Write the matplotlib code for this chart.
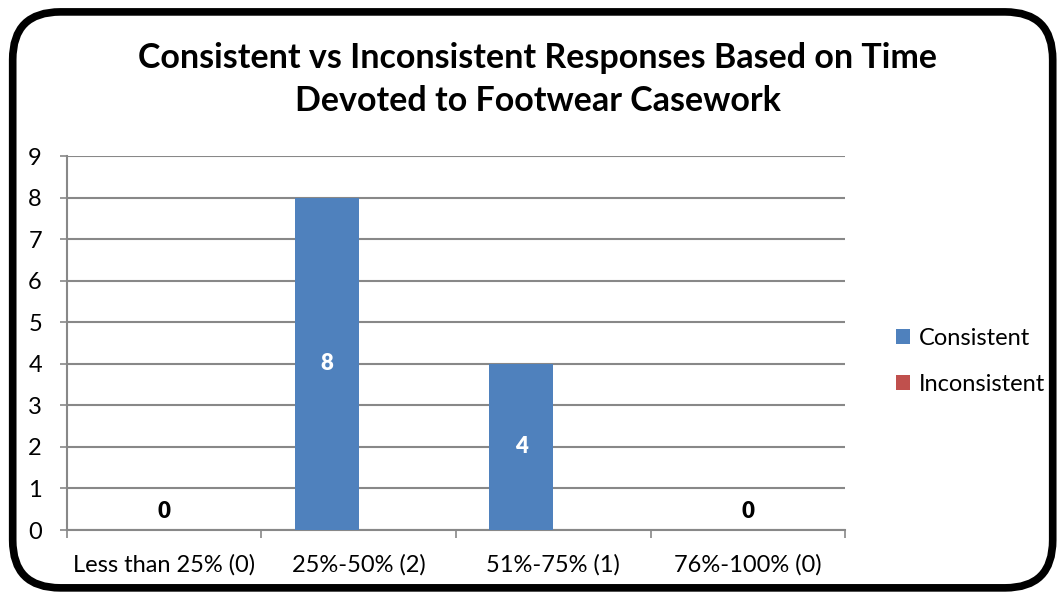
import numpy as np
import matplotlib.pyplot as plt
from matplotlib.patches import FancyBboxPatch

plt.rcParams['font.family'] = ['Lato', 'DejaVu Sans']

categories = ["Less than 25% (0)", "25%-50% (2)", "51%-75% (1)", "76%-100% (0)"]
consistent = [0, 8, 4, 0]
inconsistent = [0, 0, 0, 0]
series_names = ["Consistent", "Inconsistent"]
colors = ["#4F81BD", "#C0504D"]

fig = plt.figure(figsize=(10.58, 5.95), dpi=100)

# rounded frame round the whole chart
frame = FancyBboxPatch((0.012, 0.012), 0.983, 0.968,
                       boxstyle="round,pad=0,rounding_size=0.045",
                       transform=fig.transFigure, fill=False,
                       edgecolor="black", linewidth=5.5, mutation_aspect=1.78)
fig.patches.append(frame)

ax = fig.add_axes([0.0633, 0.1092, 0.7354, 0.6286])
x = np.arange(len(categories))
w = 0.33
ax.bar(x - w / 2, consistent, w, color=colors[0], label=series_names[0], zorder=3)
ax.bar(x + w / 2, inconsistent, w, color=colors[1], label=series_names[1], zorder=3)

# data labels
for i, v in enumerate(consistent):
    if v == 0:
        ax.annotate(str(v), (x[i], 0), xytext=(0, 6), textcoords="offset points",
                    ha="center", va="bottom", fontsize=16, fontweight="heavy", color="black")
    else:
        ax.text(x[i] - w / 2, v / 2, str(v), ha="center", va="center",
                fontsize=16, fontweight="heavy", color="white", zorder=4)

ax.set_xlim(-0.5, len(categories) - 0.5)
ax.set_ylim(0, 9)
ax.set_yticks(range(0, 10))
ax.yaxis.grid(True, color="#888888", linewidth=1.5, zorder=0)
ax.set_xticks(x)
ax.set_xticklabels(categories)
ax.set_xticks(np.arange(-0.5, len(categories)), minor=True)
ax.tick_params(axis="x", which="major", length=0, pad=17, labelsize=17)
ax.tick_params(axis="x", which="minor", length=6, width=1.2, color="#888888")
ax.tick_params(axis="y", length=5, width=1.2, color="#888888", pad=13, labelsize=17)
for s in ["top", "right"]:
    ax.spines[s].set_visible(False)
for s in ["left", "bottom"]:
    ax.spines[s].set_color("#888888")
    ax.spines[s].set_linewidth(1.5)

fig.text(0.5085, 0.867, "Consistent vs Inconsistent Responses Based on Time\nDevoted to Footwear Casework",
         ha="center", va="center", fontsize=24.5, fontweight="bold", linespacing=1.42)

fig.legend(loc="center left", bbox_to_anchor=(0.827, 0.393), frameon=False,
           fontsize=17, handlelength=0.6, handleheight=0.6, labelspacing=1.05,
           handletextpad=0.35)

fig.savefig("out.png", dpi=100)
